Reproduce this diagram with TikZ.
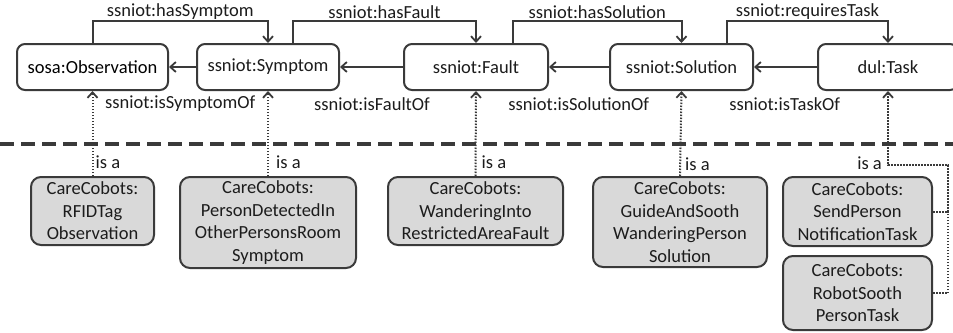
\documentclass[tikz,border=0pt]{standalone}
\usepackage{fontspec}
\setmainfont{Carlito}
\usetikzlibrary{arrows.meta,calc}
\definecolor{ink}{HTML}{3A3A3A}
\definecolor{txt}{HTML}{1C1C1C}
\definecolor{boxfill}{HTML}{D9D9D9}
\tikzset{
  cls/.style={draw=ink, line width=2pt, rounded corners=8pt, fill=white,
    inner sep=0pt, align=center, text=txt,
    font=\fontsize{18.5}{22.5}\selectfont},
  inst/.style={cls, fill=boxfill, rounded corners=10pt},
  rel/.style={draw=ink, line width=2pt, -{Straight Barb[length=5.5pt,width=10pt,line width=1.8pt]}},
  isa/.style={draw=ink, line width=2pt, dash pattern=on 1.5pt off 1.5pt,
    -{Straight Barb[length=5.5pt,width=10pt,line width=1.8pt]}},
  isaplain/.style={draw=ink, line width=2pt, dash pattern=on 1.5pt off 1.5pt},
  lbl/.style={text=txt, inner sep=1pt, font=\fontsize{18.5}{22.5}\selectfont},
  divider/.style={draw=ink, line width=3.2pt, dash pattern=on 14pt off 7pt}
}
\begin{document}
\begin{tikzpicture}[x=1pt,y=-1pt]
\useasboundingbox (0,0) rectangle (953,332);
\clip (0,0) rectangle (953,332);

% separator between ontology classes and instances
\draw[divider] (0,144) -- (953,144);

% ontology classes
\node[cls, minimum width=151pt, minimum height=46pt, text=black] (obs) at (92.5,67) {sosa:Observation};
\node[cls, minimum width=142pt, minimum height=46pt] (sym)   at (268,67)  {ssniot:Symptom};
\node[cls, minimum width=144pt, minimum height=46pt] (fault) at (476,67)  {ssniot:Fault};
\node[cls, minimum width=143pt, minimum height=46pt] (sol)   at (681.5,67){ssniot:Solution};
\node[cls, minimum width=140pt, minimum height=46pt] (task)  at (888,67)  {dul:Task};

% instances
\node[inst, minimum width=123pt, minimum height=68pt] (rfid)  at (92.5,211)  {CareCobots:\\RFIDTag\\Observation};
\node[inst, minimum width=176pt, minimum height=91pt] (pers)  at (268,222.5) {CareCobots:\\PersonDetectedIn\\OtherPersonsRoom\\Symptom};
\node[inst, minimum width=175pt, minimum height=68pt] (wand)  at (475.5,211) {CareCobots:\\WanderingInto\\RestrictedAreaFault};
\node[inst, minimum width=174pt, minimum height=90pt] (guide) at (680,222)   {CareCobots:\\GuideAndSooth\\WanderingPerson\\Solution};
\node[inst, minimum width=149pt, minimum height=69pt] (send)  at (857.5,211.5){CareCobots:\\SendPerson\\NotificationTask};
\node[inst, minimum width=149pt, minimum height=74pt] (robot) at (857.5,293)  {CareCobots:\\RobotSooth\\PersonTask};

% forward properties (over the top)
\draw[rel] (obs.north) -- ++(0,-22) -| (sym.north)
  node[lbl, pos=0.25, above] (l1) {ssniot:hasSymptom};
\draw[rel] ([xshift=25pt]sym.north) -- ++(0,-22) -| (fault.north)
  node[lbl, pos=0.25, above] (l2) {ssniot:hasFault};
\draw[rel] ([xshift=37pt]fault.north) -- ++(0,-22) -| (sol.north)
  node[lbl, pos=0.25, above] (l3) {ssniot:hasSolution};
\draw[rel] ([xshift=45.5pt]sol.north) -- ++(0,-22) -| (task.north)
  node[lbl, pos=0.25, above] (l4) {ssniot:requiresTask};

% inverse properties
\draw[rel] (sym.west) -- (obs.east);
\draw[rel] (fault.west) -- (sym.east);
\draw[rel] (sol.west) -- (fault.east);
\draw[rel] (task.west) -- (sol.east);
\node[lbl] (i1) at ($(obs.south)!0.5!(sym.south)+(0,13)$)   {ssniot:isSymptomOf};
\node[lbl] (i2) at ($(sym.south)!0.5!(fault.south)+(0,13)$) {ssniot:isFaultOf};
\node[lbl] (i3) at ($(fault.south)!0.5!(sol.south)+(0,13)$) {ssniot:isSolutionOf};
\node[lbl] (i4) at ($(sol.south)!0.5!(task.south)+(0,13)$)  {ssniot:isTaskOf};

% instance-of links
\draw[isa] (rfid.north)  -- (obs.south);
\draw[isa] (pers.north)  -- (sym.south);
\draw[isa] (wand.north)  -- (fault.south);
\draw[isa] (guide.north) -- (sol.south);
\node[lbl, anchor=west] (a1) at ([xshift=2pt,yshift=14pt]rfid.north)  {is a};
\node[lbl, anchor=west] (a2) at ([xshift=7pt,yshift=14pt]pers.north)  {is a};
\node[lbl, anchor=west] (a3) at ([xshift=5pt,yshift=14pt]wand.north)  {is a};
\node[lbl, anchor=west] (a4) at ([xshift=4pt,yshift=12pt]guide.north) {is a};

\coordinate (jn) at (948,165);
\draw[isa] (send.east) -| (jn) -- (task.south |- jn) -- (task.south);
\draw[isaplain] (robot.east) -| (send.east -| jn);
\node[lbl, anchor=east] (a5) at ([xshift=-5pt,yshift=2pt]task.south |- jn) {is a};
\end{tikzpicture}
\end{document}
